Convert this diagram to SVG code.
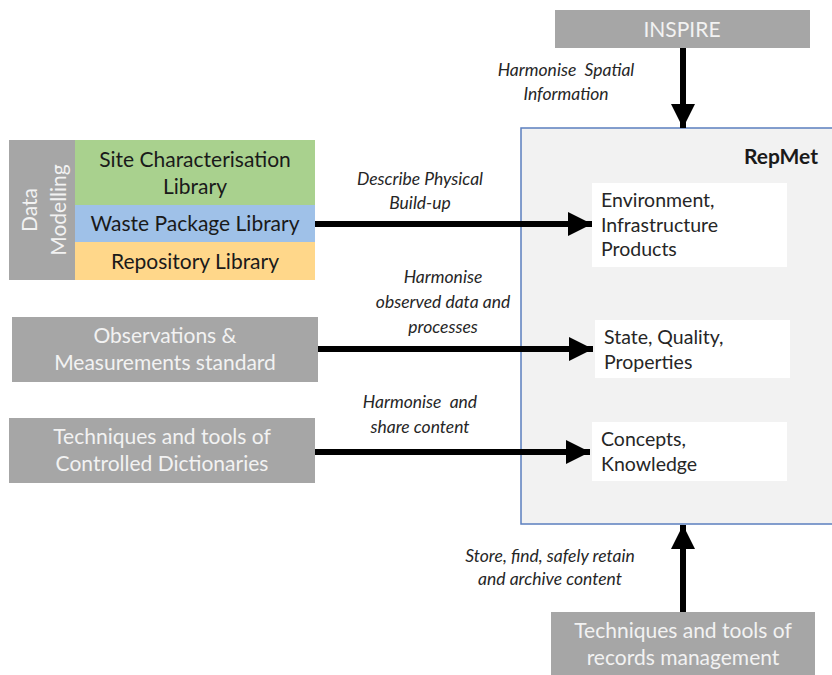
<svg xmlns="http://www.w3.org/2000/svg" width="832" height="675" viewBox="0 0 832 675">
<defs>
<marker id="ah" viewBox="0 0 10 10" refX="10" refY="5" markerWidth="4" markerHeight="4" markerUnits="strokeWidth" orient="auto">
<path d="M0,0 L10,5 L0,10 z" fill="#000"/>
</marker>
<style>
.g{fill:#a6a6a6}
.gt{font-family:Lato,"Open Sans",sans-serif;font-size:21px;fill:#f2f2f2;text-anchor:middle}
.bt{font-family:Lato,"Open Sans",sans-serif;font-size:21px;fill:#1a1a1a;text-anchor:middle}
.wt{font-family:Lato,"Open Sans",sans-serif;font-size:19.5px;fill:#262626}
.lb{font-family:Lato,"Open Sans",sans-serif;font-size:17.5px;font-style:italic;fill:#262626;text-anchor:middle;white-space:pre}
.c{stroke:#000;stroke-width:6;fill:none;marker-end:url(#ah)}
.w{fill:#fff}
</style>
</defs>
<rect width="832" height="675" fill="#fff"/>
<g id="repmet">
<rect x="521" y="128" width="320" height="396" fill="#f2f2f2" stroke="#5b7fbf" stroke-width="1.5"/>
<text x="818" y="164" font-family="Lato,'Open Sans',sans-serif" font-size="21" font-weight="bold" fill="#1a1a1a" text-anchor="end">RepMet</text>
</g>
<g id="env">
<rect class="w" x="592" y="183" width="195" height="84"/>
<text class="wt" x="601" y="207">Environment,</text>
<text class="wt" x="601" y="232">Infrastructure</text>
<text class="wt" x="601" y="256">Products</text>
</g>
<g id="state">
<rect class="w" x="595" y="320" width="195" height="58"/>
<text class="wt" x="604" y="344">State, Quality,</text>
<text class="wt" x="604" y="369">Properties</text>
</g>
<g id="concepts">
<rect class="w" x="592" y="422" width="195" height="59"/>
<text class="wt" x="601" y="446">Concepts,</text>
<text class="wt" x="601" y="471">Knowledge</text>
</g>
<g id="inspire">
<rect class="g" x="555" y="10" width="255" height="38"/>
<text class="gt" x="682" y="37">INSPIRE</text>
</g>
<g id="datamodelling">
<rect class="g" x="9" y="140" width="66" height="140"/>
<text class="gt" transform="translate(37,210) rotate(-90)">Data</text>
<text class="gt" transform="translate(66,210) rotate(-90)">Modelling</text>
</g>
<g id="site">
<rect x="75" y="140" width="240" height="65" fill="#a9d18e"/>
<text class="bt" x="195" y="167">Site Characterisation</text>
<text class="bt" x="195" y="194">Library</text>
</g>
<g id="waste">
<rect x="75" y="205" width="240" height="37" fill="#9fc1e8"/>
<text class="bt" x="195" y="231">Waste Package Library</text>
</g>
<g id="repository">
<rect x="75" y="242" width="240" height="38" fill="#ffd78a"/>
<text class="bt" x="195" y="269">Repository Library</text>
</g>
<g id="observations">
<rect class="g" x="12" y="317" width="306" height="65"/>
<text class="gt" x="165" y="343">Observations &amp;</text>
<text class="gt" x="165" y="370">Measurements standard</text>
</g>
<g id="dictionaries">
<rect class="g" x="9" y="418" width="306" height="65"/>
<text class="gt" x="162" y="444">Techniques and tools of</text>
<text class="gt" x="162" y="471">Controlled Dictionaries</text>
</g>
<g id="records">
<rect class="g" x="551" y="612" width="264" height="63"/>
<text class="gt" x="683" y="638">Techniques and tools of</text>
<text class="gt" x="683" y="665">records management</text>
</g>
<g id="connectors">
<line class="c" x1="683" y1="48" x2="683" y2="128"/>
<line class="c" x1="315" y1="224" x2="592" y2="224"/>
<line class="c" x1="318" y1="349" x2="593" y2="349"/>
<line class="c" x1="315" y1="452" x2="590" y2="452"/>
<line class="c" x1="683" y1="612" x2="683" y2="525"/>
<text class="lb" x="566" y="76">Harmonise  Spatial</text>
<text class="lb" x="566" y="100">Information</text>
<text class="lb" x="420" y="185">Describe Physical</text>
<text class="lb" x="420" y="209">Build-up</text>
<text class="lb" x="443" y="283">Harmonise</text>
<text class="lb" x="443" y="308">observed data and</text>
<text class="lb" x="443" y="333">processes</text>
<text class="lb" x="420" y="408">Harmonise  and</text>
<text class="lb" x="420" y="433">share content</text>
<text class="lb" x="550" y="562">Store, find, safely retain</text>
<text class="lb" x="550" y="585">and archive content</text>
</g>
</svg>
